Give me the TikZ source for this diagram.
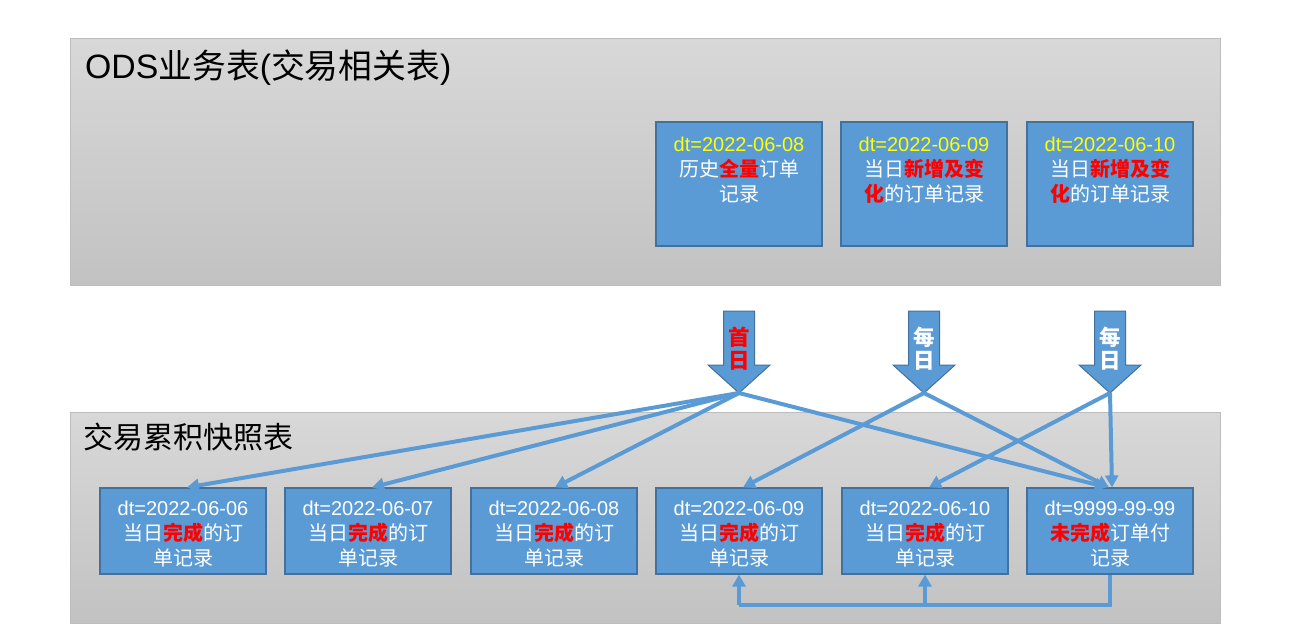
\documentclass[tikz,border=0pt]{standalone}
\usepackage{fontspec}
\setmainfont{Liberation Sans}
\newfontfamily\cjk{Noto Sans CJK SC}
\usetikzlibrary{arrows.meta,calc}
\definecolor{boxblue}{HTML}{5B9BD5}
\definecolor{boxedge}{HTML}{41719C}
\definecolor{linkblue}{HTML}{5B9BD5}
\definecolor{panelline}{HTML}{BDBDBD}
\definecolor{paneltop}{HTML}{D8D8D8}
\definecolor{panelbot}{HTML}{C2C2C2}
\definecolor{redtxt}{HTML}{FF0000}
\definecolor{yellowtxt}{HTML}{FFFF00}
\newcommand{\hl}[1]{\textcolor{redtxt}{\bfseries #1}}
\begin{document}
\begin{tikzpicture}[x=1pt,y=-1pt,
  panel/.style={draw=panelline, line width=0.8pt, top color=paneltop, bottom color=panelbot, anchor=north west, inner sep=0pt},
  paneltitle/.style={anchor=west, text=black, inner sep=3pt},
  bluebox/.style={draw=boxedge, fill=boxblue, line width=1.2pt, minimum width=166pt, inner sep=0pt},
  topbox/.style={bluebox, minimum height=124pt},
  botbox/.style={bluebox, minimum height=86pt},
  boxtext/.style={text=white, align=center, font=\fontsize{20}{25}\selectfont, inner sep=0pt},
  blockarrow/.style={draw=boxedge, fill=boxblue, line width=1pt, line join=miter},
  arrowlbl/.style={align=center, font=\cjk\bfseries\fontsize{21.5}{23.5}\selectfont, inner sep=0pt},
  link/.style={draw=linkblue, line width=4pt, -{Triangle[length=12pt,width=13pt]}},
  bus/.style={draw=linkblue, line width=4pt}
]
\useasboundingbox (0,0) rectangle (1306,644);
\fill[white] (0,0) rectangle (1306,644);

% panels
\node[panel, minimum width=1150pt, minimum height=247pt] (ods) at (70,38) {};
\node[panel, minimum width=1150pt, minimum height=211pt] (snap) at (70,412) {};
\node[paneltitle, font=\fontsize{33.8}{35}\selectfont] (odstitle) at (82,68) {ODS{\cjk 业务表}({\cjk 交易相关表})};
\node[paneltitle, font=\cjk\fontsize{30}{32}\selectfont] (snaptitle) at (80,437) {交易累积快照表};

% top boxes
\node[topbox] (o1) at (739,184) {};
\node[topbox] (o2) at (924,184) {};
\node[topbox] (o3) at (1110,184) {};
\node[boxtext, anchor=north] (o1t) at ([yshift=-15pt]o1.north) {\textcolor{yellowtxt}{dt=2022-06-08}\\{\cjk 历史\hl{全量}订单}\\{\cjk 记录}};
\node[boxtext, anchor=north] (o2t) at ([yshift=-15pt]o2.north) {\textcolor{yellowtxt}{dt=2022-06-09}\\{\cjk 当日\hl{新增及变}}\\{\cjk \hl{化}的订单记录}};
\node[boxtext, anchor=north] (o3t) at ([yshift=-15pt]o3.north) {\textcolor{yellowtxt}{dt=2022-06-10}\\{\cjk 当日\hl{新增及变}}\\{\cjk \hl{化}的订单记录}};

% block arrows
\foreach \x/\n in {739/1,924/2,1110/3}{
  \draw[blockarrow] (\x-15.5,311) -- (\x+15.5,311) -- (\x+15.5,365) -- (\x+31,365) -- (\x,393) -- (\x-31,365) -- (\x-15.5,365) -- cycle;
  \coordinate (t\n) at (\x,393);
}
\node[arrowlbl, text=redtxt] (l1) at (739,348.5) {首\\日};
\node[arrowlbl, text=white] (l2) at (924,348.5) {每\\日};
\node[arrowlbl, text=white] (l3) at (1110,348.5) {每\\日};

% bottom boxes
\node[botbox] (b1) at (183,531) {};
\node[botbox] (b2) at (368,531) {};
\node[botbox] (b3) at (554,531) {};
\node[botbox] (b4) at (739,531) {};
\node[botbox] (b5) at (925,531) {};
\node[botbox] (b6) at (1110,531) {};
\node[boxtext] (b1t) at ([yshift=-3.5pt]b1.center) {dt=2022-06-06\\{\cjk 当日\hl{完成}的订}\\{\cjk 单记录}};
\node[boxtext] (b2t) at ([yshift=-3.5pt]b2.center) {dt=2022-06-07\\{\cjk 当日\hl{完成}的订}\\{\cjk 单记录}};
\node[boxtext] (b3t) at ([yshift=-3.5pt]b3.center) {dt=2022-06-08\\{\cjk 当日\hl{完成}的订}\\{\cjk 单记录}};
\node[boxtext] (b4t) at ([yshift=-3.5pt]b4.center) {dt=2022-06-09\\{\cjk 当日\hl{完成}的订}\\{\cjk 单记录}};
\node[boxtext] (b5t) at ([yshift=-3.5pt]b5.center) {dt=2022-06-10\\{\cjk 当日\hl{完成}的订}\\{\cjk 单记录}};
\node[boxtext] (b6t) at ([yshift=-3.5pt]b6.center) {dt=9999-99-99\\{\cjk \hl{未完成}订单付}\\{\cjk 记录}};

% connectors
\draw[link] (t1) -- ([xshift=4pt]b1.north);
\draw[link] (t1) -- ([xshift=4pt]b2.north);
\draw[link] (t1) -- ([xshift=1pt]b3.north);
\draw[link] (t1) -- ([xshift=-3pt]b6.north);
\draw[link] (t2) -- ([xshift=4pt]b4.north);
\draw[link] (t2) -- ([xshift=-1pt]b6.north);
\draw[link] (t3) -- ([xshift=4pt]b5.north);
\draw[link] (t3) -- ([xshift=2pt]b6.north);

\coordinate (busline) at (0,605);
\draw[bus] (b6.south) -- (b6.south |- busline) -- (b4.south |- busline);
\draw[link] (b4.south |- busline) -- (b4.south);
\draw[link] (b5.south |- busline) -- (b5.south);
\end{tikzpicture}
\end{document}
